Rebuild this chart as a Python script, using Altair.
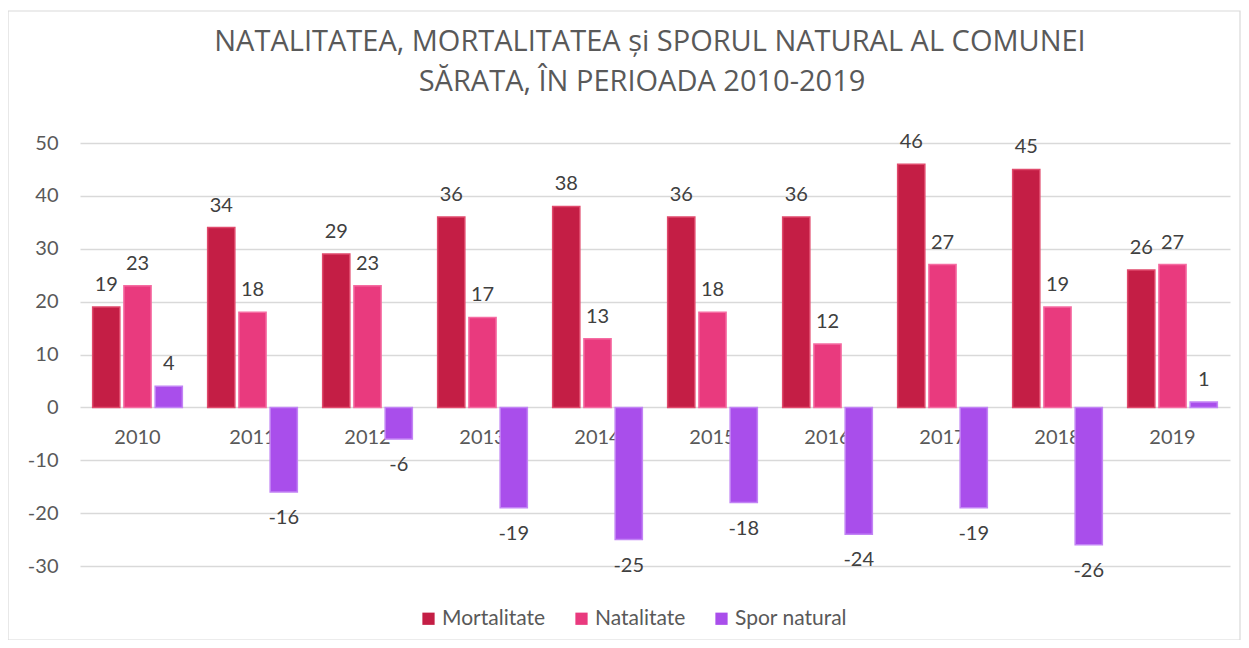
import altair as alt
import pandas as pd

years = [str(y) for y in range(2010, 2020)]
mortalitate = [19, 34, 29, 36, 38, 36, 36, 46, 45, 26]
natalitate = [23, 18, 23, 17, 13, 18, 12, 27, 19, 27]
spor = [4, -16, -6, -19, -25, -18, -24, -19, -26, 1]
series = ["Mortalitate", "Natalitate", "Spor natural"]
fill_colors = ["#C41E45", "#E93A7E", "#A94EEB"]
edge_colors = ["#E04A6C", "#F56CA2", "#C283F5"]
y_ticks = [-30, -20, -10, 0, 10, 20, 30, 40, 50]
title_lines = ["NATALITATEA, MORTALITATEA și SPORUL NATURAL AL COMUNEI",
               "SĂRATA, ÎN PERIOADA 2010-2019"]

rows = []
for name, vals in zip(series, [mortalitate, natalitate, spor]):
    for yr, v in zip(years, vals):
        rows.append({"year": yr, "series": name, "value": v, "label": str(v)})
df = pd.DataFrame(rows)

LABEL_FONT = "Lato"
GRAY = "#595959"
FS = 20

x_enc = alt.X("year:N", sort=years, title=None,
              scale=alt.Scale(paddingInner=0.22, paddingOuter=0.11),
              axis=alt.Axis(orient="bottom", offset=-159, domain=False, ticks=False,
                            labelPadding=20, labelAngle=0, labelFont=LABEL_FONT,
                            labelFontSize=FS, labelColor=GRAY, grid=False))
xo_enc = alt.XOffset("series:N", sort=series,
                     scale=alt.Scale(paddingInner=0.13, paddingOuter=0))
y_enc = alt.Y("value:Q", title=None,
              scale=alt.Scale(domain=[-30, 50], nice=False, zero=True),
              axis=alt.Axis(values=y_ticks, domain=False, ticks=False, labelPadding=22,
                            labelExpr="toString(datum.value)",
                            labelFont=LABEL_FONT, labelFontSize=FS, labelColor=GRAY,
                            grid=True, gridColor="#D9D9D9", gridWidth=1.3))

base = alt.Chart(df)

bars = base.mark_bar(strokeWidth=1.5).encode(
    x=x_enc, xOffset=xo_enc, y=y_enc,
    fill=alt.Fill("series:N", sort=series,
                  scale=alt.Scale(domain=series, range=fill_colors),
                  legend=alt.Legend(title=None, orient="none", legendX=338, legendY=465,
                                    direction="horizontal", symbolType="square",
                                    symbolSize=150, symbolStrokeWidth=0,
                                    labelFont=LABEL_FONT, labelFontSize=21,
                                    labelColor=GRAY, columnPadding=25, labelOffset=3)),
    stroke=alt.Stroke("series:N", sort=series,
                      scale=alt.Scale(domain=series, range=edge_colors), legend=None),
)

pos_labels = base.transform_filter(alt.datum.value >= 0).mark_text(
    baseline="alphabetic", dy=-16, font=LABEL_FONT, fontSize=FS, color="#404040"
).encode(x=x_enc, xOffset=xo_enc, y=y_enc, text=alt.Text("label:N"))

neg_labels = base.transform_filter(alt.datum.value < 0).mark_text(
    baseline="top", dy=16, font=LABEL_FONT, fontSize=FS, color="#404040"
).encode(x=x_enc, xOffset=xo_enc, y=y_enc, text=alt.Text("label:N"))

border = alt.Chart(pd.DataFrame({"k": [0]})).mark_rect(
    fill=None, stroke="#D9D9D9", strokeWidth=1.2, clip=False
).encode(x=alt.value(-72), x2=alt.value(1160), y=alt.value(-132), y2=alt.value(497))

title1 = alt.Chart(pd.DataFrame({"t": [title_lines[0]]})).mark_text(
    font="Open Sans", fontSize=29, color=GRAY, align="center", baseline="alphabetic"
).encode(text="t:N", x=alt.value(570), y=alt.value(-92))
title2 = alt.Chart(pd.DataFrame({"t": [title_lines[1]]})).mark_text(
    font="Open Sans", fontSize=29, color=GRAY, align="center", baseline="alphabetic"
).encode(text="t:N", x=alt.value(562), y=alt.value(-52))

chart = alt.layer(border, title1, title2, bars, pos_labels, neg_labels).properties(
    width=1150, height=423,
    autosize=alt.AutoSizeParams(type="none"),
    padding={"left": 72, "top": 135, "right": 11, "bottom": 74},
).configure_view(stroke=None)

chart.save("out.html", embed_options={"renderer": "svg", "actions": False})
